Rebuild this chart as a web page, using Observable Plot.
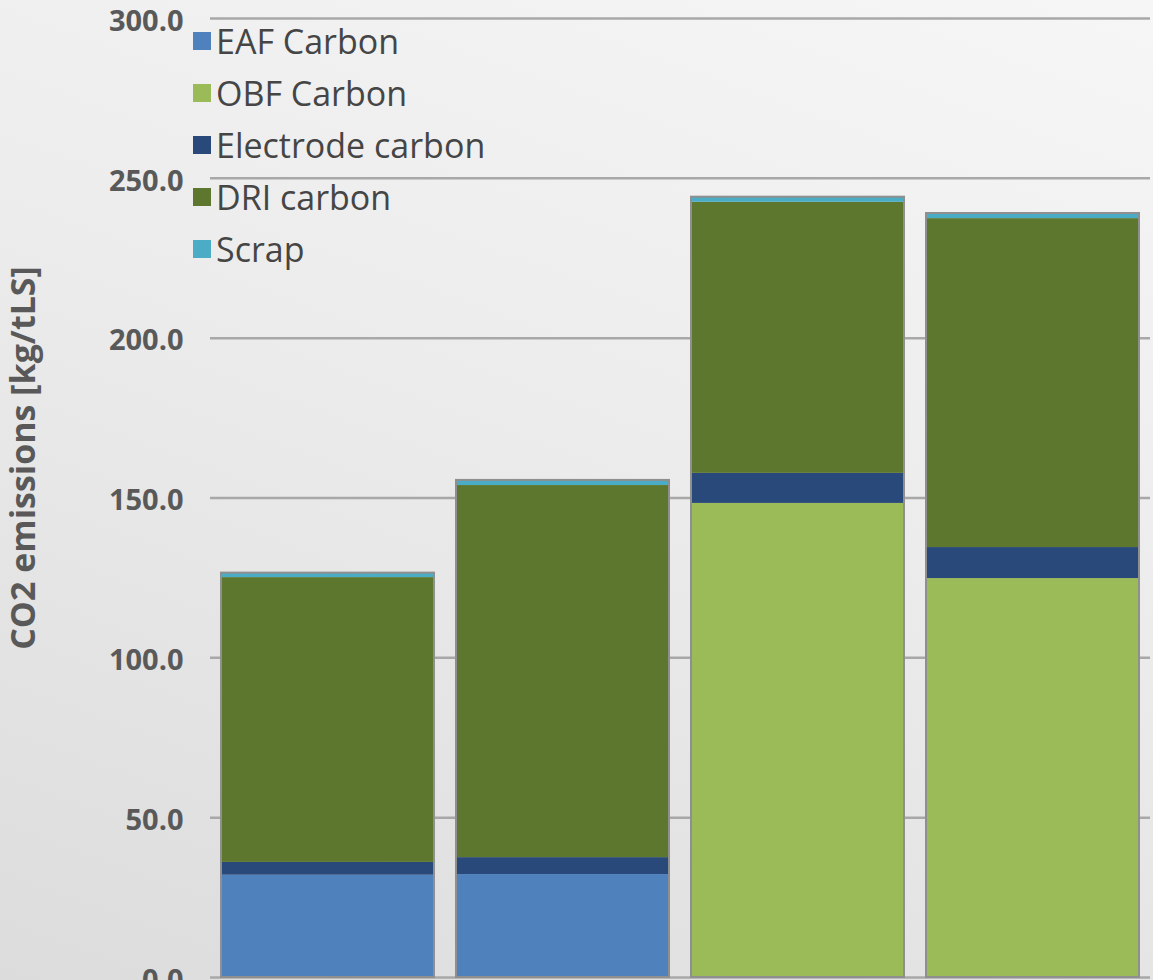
<!DOCTYPE html>
<html>
<head>
<meta charset="utf-8">
<script src="https://cdn.jsdelivr.net/npm/d3@7"></script>
<script src="https://cdn.jsdelivr.net/npm/@observablehq/plot@0.6"></script>
<style>
  html, body { margin: 0; padding: 0; width: 1153px; height: 980px; overflow: hidden; }
  body {
    background: linear-gradient(200deg, #f6f6f6 0%, #ececec 45%, #dcdcdc 100%);
    font-family: "Open Sans", sans-serif;
  }
  #wrap { position: relative; width: 1153px; height: 980px; }
  #legend { position: absolute; left: 193px; top: 15px; }
  .row { display: flex; align-items: center; height: 52px; font-size: 34px; color: #454545; }
  .sw { width: 18px; height: 18px; margin-right: 5px; flex: none; }
</style>
</head>
<body>
<div id="wrap"><div id="chart"></div><div id="legend"></div></div>
<script>
const categories = ["Case 1", "Case 2", "Case 3", "Case 4"];
const seriesNames = ["EAF Carbon", "OBF Carbon", "Electrode carbon", "DRI carbon", "Scrap"];
const seriesColors = ["#4f81bd", "#9bbb59", "#28497a", "#5e772f", "#4bacc6"];
const eafCarbon = [32.0, 32.2, 0, 0];
const obfCarbon = [0, 0, 148.3, 124.8];
const electrodeCarbon = [4.0, 5.3, 9.4, 9.7];
const driCarbon = [89.1, 116.4, 84.8, 102.9];
const scrap = [1.4, 1.6, 1.6, 1.6];
const yTicks = [0, 50, 100, 150, 200, 250, 300];
const yLabel = "CO2 emissions [kg/tLS]";

const seriesValues = [eafCarbon, obfCarbon, electrodeCarbon, driCarbon, scrap];
const rows = [];
seriesNames.forEach((s, i) => categories.forEach((c, j) => rows.push({category: c, series: s, value: seriesValues[i][j]})));

const chart = Plot.plot({
  width: 1153,
  height: 980,
  marginLeft: 210,
  marginRight: 3,
  marginTop: 18,
  marginBottom: 3,
  style: {background: "transparent", fontFamily: "Open Sans, sans-serif", overflow: "visible"},
  x: {domain: categories, paddingInner: 0.094, paddingOuter: 0.045, axis: null},
  y: {domain: [0, 300], ticks: yTicks},
  color: {domain: seriesNames, range: seriesColors},
  marks: [
    Plot.gridY(yTicks, {stroke: "#a8a8a8", strokeOpacity: 1, strokeWidth: 2.5}),
    Plot.barY(rows, {x: "category", y: "value", fill: "series", z: "series", order: seriesNames}),
    Plot.barY(rows, Plot.groupX({y: "sum"}, {x: "category", y: "value", fill: "none", stroke: "#8f8f8f", strokeWidth: 2})),
    Plot.axisY(yTicks, {tickSize: 0, tickPadding: 27, dy: 3, tickFormat: d => d.toFixed(1), fontSize: 29, fontWeight: 700, fill: "#595959", label: null}),
    Plot.text([yLabel], {frameAnchor: "left", textAnchor: "middle", rotate: -90, dx: -186, dy: -40, fontSize: 34, fontWeight: 700, fill: "#595959"})
  ]
});
document.getElementById("chart").appendChild(chart);

const legend = document.getElementById("legend");
seriesNames.forEach((s, i) => {
  const r = document.createElement("div");
  r.className = "row";
  r.innerHTML = `<span class="sw" style="background:${seriesColors[i]}"></span><span>${s}</span>`;
  legend.appendChild(r);
});
</script>
</body>
</html>
